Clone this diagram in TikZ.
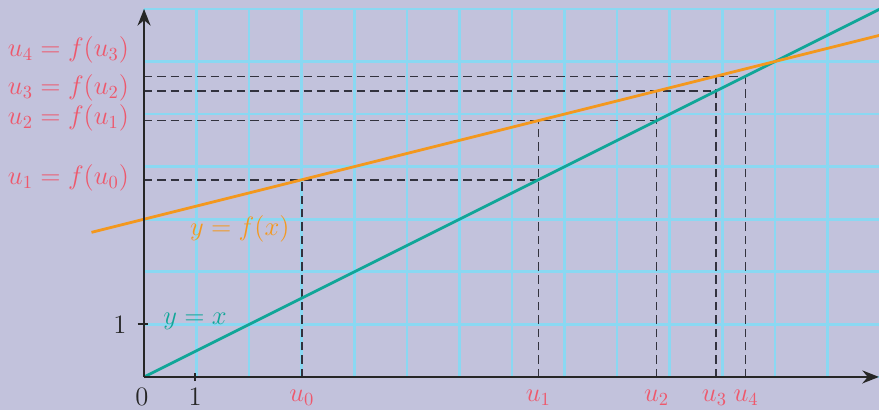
\documentclass[tikz,border=0pt]{standalone}
\usetikzlibrary{arrows.meta}
\definecolor{bg}{RGB}{194,194,220}
\definecolor{gridc}{RGB}{138,216,242}
\definecolor{orangec}{RGB}{243,152,30}
\definecolor{tealc}{RGB}{16,166,152}
\definecolor{labc}{RGB}{238,88,108}
\definecolor{dashc}{RGB}{50,50,62}
\begin{document}
\begin{tikzpicture}[font=\fontsize{14}{17}\selectfont,
  gridline/.style={gridc, line width=1.4pt},
  axisline/.style={line width=1.3pt, black!85, -{Stealth[length=9pt,width=7pt]}},
  curve/.style={line width=1.5pt},
  cob/.style={dashc, line width=0.8pt, dash pattern=on 4.5pt off 2.7pt},
  lab/.style={text=labc, inner sep=0pt},
  tick/.style={line width=1.2pt, black!85}]
\useasboundingbox[fill=bg] (-2.74,-0.63) rectangle (13.98,7.17);
% grid
\draw[gridline] (0,0) grid (14,7);
% key points
\coordinate (O) at (0,0);
\coordinate (Xend) at (13.98,0);
\coordinate (Yend) at (0,7);
\coordinate (u0) at (3,0);       \coordinate (p0) at (3,3.75);     \coordinate (y0) at (0,3.75);
\coordinate (u1) at (7.5,0);     \coordinate (p1) at (7.5,4.875);  \coordinate (y1) at (0,4.875);
\coordinate (u2) at (9.75,0);    \coordinate (p2) at (9.75,5.4375); \coordinate (y2) at (0,5.4375);
\coordinate (u3) at (10.875,0);  \coordinate (p3) at (10.875,5.71875); \coordinate (y3) at (0,5.71875);
\coordinate (u4) at (11.4375,0); \coordinate (p4) at (11.4375,5.71875);
\coordinate (q1) at (7.5,3.75);
\coordinate (q2) at (9.75,4.875);
\coordinate (q3) at (10.875,5.4375);
% cobweb dashed lines
\draw[cob] (u0) -- (p0);
\draw[cob] (y0) -- (q1);
\draw[cob] (u1) -- (p1);
\draw[cob] (y1) -- (q2);
\draw[cob] (u2) -- (p2);
\draw[cob] (y2) -- (q3);
\draw[cob] (u3) -- (p3);
\draw[cob] (y3) -- (p4);
\draw[cob] (u4) -- (p4);
% curves
\coordinate (tA) at (0,0);
\coordinate (tB) at (14,7);
\coordinate (oA) at (-1,2.75);
\coordinate (oB) at (14,6.5);
\draw[curve, tealc] (tA) -- (tB);
\draw[curve, orangec] (oA) -- (oB);
% axes
\draw[axisline] (O) -- (Xend);
\draw[axisline] (O) -- (Yend);
\coordinate (tx1) at (0.97,-0.08); \coordinate (tx2) at (0.97,0.08);
\coordinate (ty1) at (-0.12,1); \coordinate (ty2) at (0.08,1);
\draw[tick] (tx1) -- (tx2);
\draw[tick] (ty1) -- (ty2);
% axis labels
\node[text=black!85] (l0) at (-0.04,-0.38) {$0$};
\node[text=black!85] (lx1) at (0.97,-0.38) {$1$};
\node[text=black!85] (ly1) at (-0.46,0.99) {$1$};
% curve labels
\node[text=tealc] (ltx) at (0.97,1.05) {$y=x$};
\node[text=orangec] (lfx) at (1.82,2.82) {$y=f(x)$};
% u labels on x axis
\node[lab] (a0) at (3,-0.4) {$u_0$};
\node[lab] (a1) at (7.5,-0.4) {$u_1$};
\node[lab] (a2) at (9.75,-0.4) {$u_2$};
\node[lab] (a3) at (10.85,-0.4) {$u_3$};
\node[lab] (a4) at (11.45,-0.4) {$u_4$};
% u labels on y axis
\node[lab, anchor=east] (b1) at (-0.28,3.78) {$u_1=f(u_0)$};
\node[lab, anchor=east] (b2) at (-0.28,4.92) {$u_2=f(u_1)$};
\node[lab, anchor=east] (b3) at (-0.28,5.49) {$u_3=f(u_2)$};
\node[lab, anchor=east] (b4) at (-0.28,6.22) {$u_4=f(u_3)$};
\end{tikzpicture}
\end{document}
